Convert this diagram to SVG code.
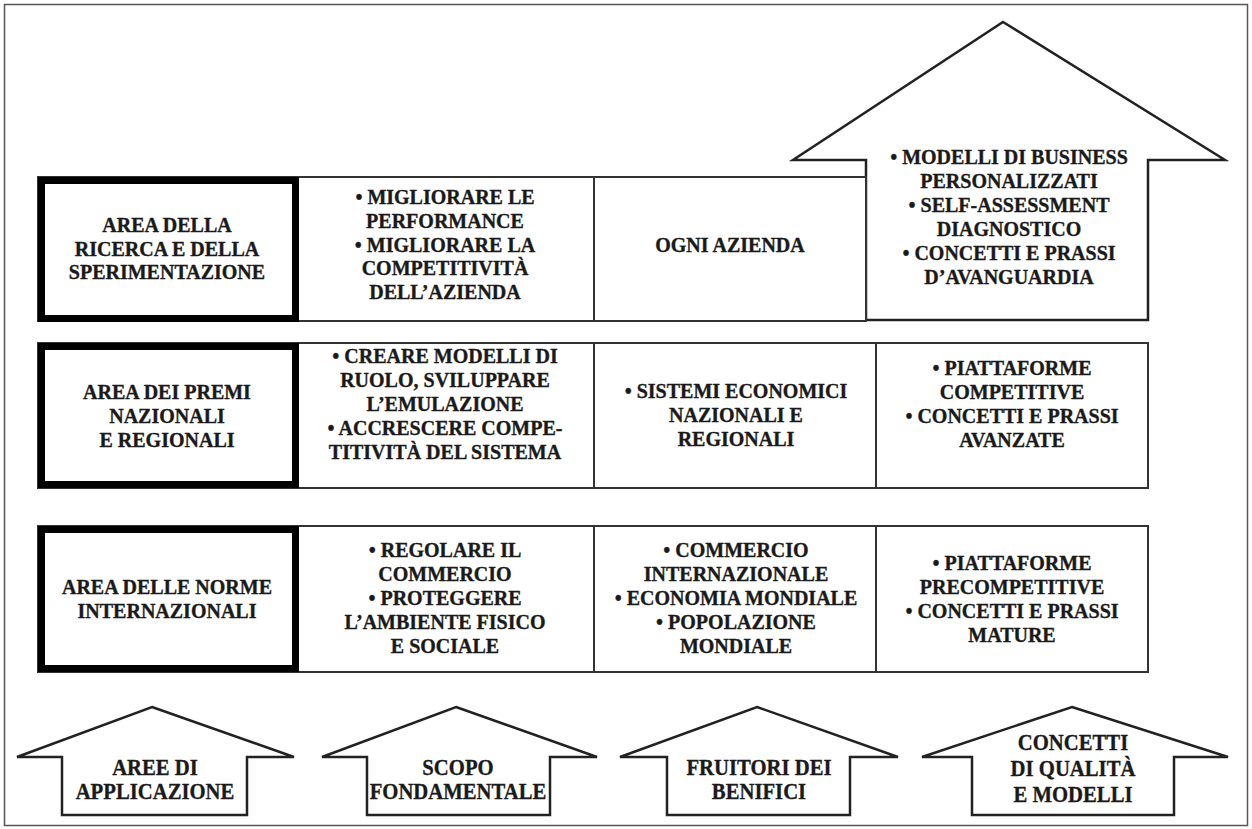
<svg xmlns="http://www.w3.org/2000/svg" width="1252" height="829" viewBox="0 0 1252 829">
<style>
.t{font-family:"Liberation Serif","Times New Roman",serif;font-weight:bold;font-size:20px;fill:#1a1a1a;stroke:#1a1a1a;stroke-width:0.35;text-anchor:middle}
.b{font-size:23px}
.cell{fill:#fff;stroke:#333;stroke-width:2}
.ln{stroke:#333;stroke-width:2}
.thick{fill:#fff;stroke:#000;stroke-width:7}
.arr{fill:#fff;stroke:#222;stroke-width:2.5;stroke-linejoin:miter}
</style>
<rect x="0" y="0" width="1252" height="829" fill="#fff"/>
<rect x="4.5" y="4.5" width="1243" height="821" fill="none" stroke="#555" stroke-width="1.5"/>

<g id="big-arrow">
<polygon class="arr" points="1003,22 1225,160 1148,160 1148,320 866,320 866,160 793,160"/>
<text class="t"><tspan x="1009" y="164">• MODELLI DI BUSINESS</tspan><tspan x="1009" y="188">PERSONALIZZATI</tspan><tspan x="1009" y="212">• SELF-ASSESSMENT</tspan><tspan x="1009" y="236">DIAGNOSTICO</tspan><tspan x="1009" y="260">• CONCETTI E PRASSI</tspan><tspan x="1009" y="284">D’AVANGUARDIA</tspan></text>
</g>

<g id="row1">
<rect class="cell" x="38" y="177" width="828" height="144"/>
<line class="ln" x1="594" y1="177" x2="594" y2="321"/>
<rect class="thick" x="41.5" y="180.5" width="254" height="138"/>
<text class="t"><tspan x="167" y="232">AREA DELLA</tspan><tspan x="167" y="256">RICERCA E DELLA</tspan><tspan x="167" y="279">SPERIMENTAZIONE</tspan></text>
<text class="t"><tspan x="445" y="204">• MIGLIORARE LE</tspan><tspan x="445" y="228">PERFORMANCE</tspan><tspan x="445" y="252">• MIGLIORARE LA</tspan><tspan x="445" y="275">COMPETITIVITÀ</tspan><tspan x="445" y="299">DELL’AZIENDA</tspan></text>
<text class="t" x="730" y="252">OGNI AZIENDA</text>
</g>

<g id="row2">
<rect class="cell" x="38" y="343" width="1110" height="145"/>
<line class="ln" x1="594" y1="343" x2="594" y2="488"/>
<line class="ln" x1="876" y1="343" x2="876" y2="488"/>
<rect class="thick" x="41.5" y="346.5" width="254" height="138"/>
<text class="t"><tspan x="167" y="399">AREA DEI PREMI</tspan><tspan x="167" y="423">NAZIONALI</tspan><tspan x="167" y="447">E REGIONALI</tspan></text>
<text class="t"><tspan x="445" y="363">• CREARE MODELLI DI</tspan><tspan x="445" y="387">RUOLO, SVILUPPARE</tspan><tspan x="445" y="411">L’EMULAZIONE</tspan><tspan x="445" y="435">• ACCRESCERE COMPE-</tspan><tspan x="445" y="459">TITIVITÀ DEL SISTEMA</tspan></text>
<text class="t"><tspan x="736" y="398">• SISTEMI ECONOMICI</tspan><tspan x="736" y="422">NAZIONALI E</tspan><tspan x="736" y="446">REGIONALI</tspan></text>
<text class="t"><tspan x="1012" y="375">• PIATTAFORME</tspan><tspan x="1012" y="399">COMPETITIVE</tspan><tspan x="1012" y="423">• CONCETTI E PRASSI</tspan><tspan x="1012" y="447">AVANZATE</tspan></text>
</g>

<g id="row3">
<rect class="cell" x="38" y="526" width="1110" height="146"/>
<line class="ln" x1="594" y1="526" x2="594" y2="672"/>
<line class="ln" x1="876" y1="526" x2="876" y2="672"/>
<rect class="thick" x="41.5" y="529.5" width="254" height="139"/>
<text class="t"><tspan x="167" y="594">AREA DELLE NORME</tspan><tspan x="167" y="618">INTERNAZIONALI</tspan></text>
<text class="t"><tspan x="445" y="557">• REGOLARE IL</tspan><tspan x="445" y="581">COMMERCIO</tspan><tspan x="445" y="605">• PROTEGGERE</tspan><tspan x="445" y="629">L’AMBIENTE FISICO</tspan><tspan x="445" y="653">E SOCIALE</tspan></text>
<text class="t"><tspan x="736" y="557">• COMMERCIO</tspan><tspan x="736" y="581">INTERNAZIONALE</tspan><tspan x="736" y="605">• ECONOMIA MONDIALE</tspan><tspan x="736" y="629">• POPOLAZIONE</tspan><tspan x="736" y="653">MONDIALE</tspan></text>
<text class="t"><tspan x="1012" y="570">• PIATTAFORME</tspan><tspan x="1012" y="594">PRECOMPETITIVE</tspan><tspan x="1012" y="618">• CONCETTI E PRASSI</tspan><tspan x="1012" y="642">MATURE</tspan></text>
</g>

<g id="arrow-aree">
<polygon class="arr" points="152,707 294,757 247,757 247,815 62,815 62,757 17,757"/>
<text class="t b" transform="translate(155,0) scale(0.9,1)"><tspan x="0" y="775">AREE DI</tspan><tspan x="0" y="799">APPLICAZIONE</tspan></text>
</g>
<g id="arrow-scopo">
<polygon class="arr" points="456,707 597,757 550,757 550,815 367,815 367,757 322,757"/>
<text class="t b" transform="translate(458,0) scale(0.9,1)"><tspan x="0" y="775">SCOPO</tspan><tspan x="0" y="799">FONDAMENTALE</tspan></text>
</g>
<g id="arrow-fruitori">
<polygon class="arr" points="757,707 898,757 850,757 850,815 667,815 667,757 620,757"/>
<text class="t b" transform="translate(759,0) scale(0.9,1)"><tspan x="0" y="775">FRUITORI DEI</tspan><tspan x="0" y="799">BENIFICI</tspan></text>
</g>
<g id="arrow-concetti">
<polygon class="arr" points="1072,707 1228,757 1174,757 1174,815 972,815 972,757 922,757"/>
<text class="t b" transform="translate(1073,0) scale(0.9,1)"><tspan x="0" y="750">CONCETTI</tspan><tspan x="0" y="776">DI QUALITÀ</tspan><tspan x="0" y="802">E MODELLI</tspan></text>
</g>
</svg>
